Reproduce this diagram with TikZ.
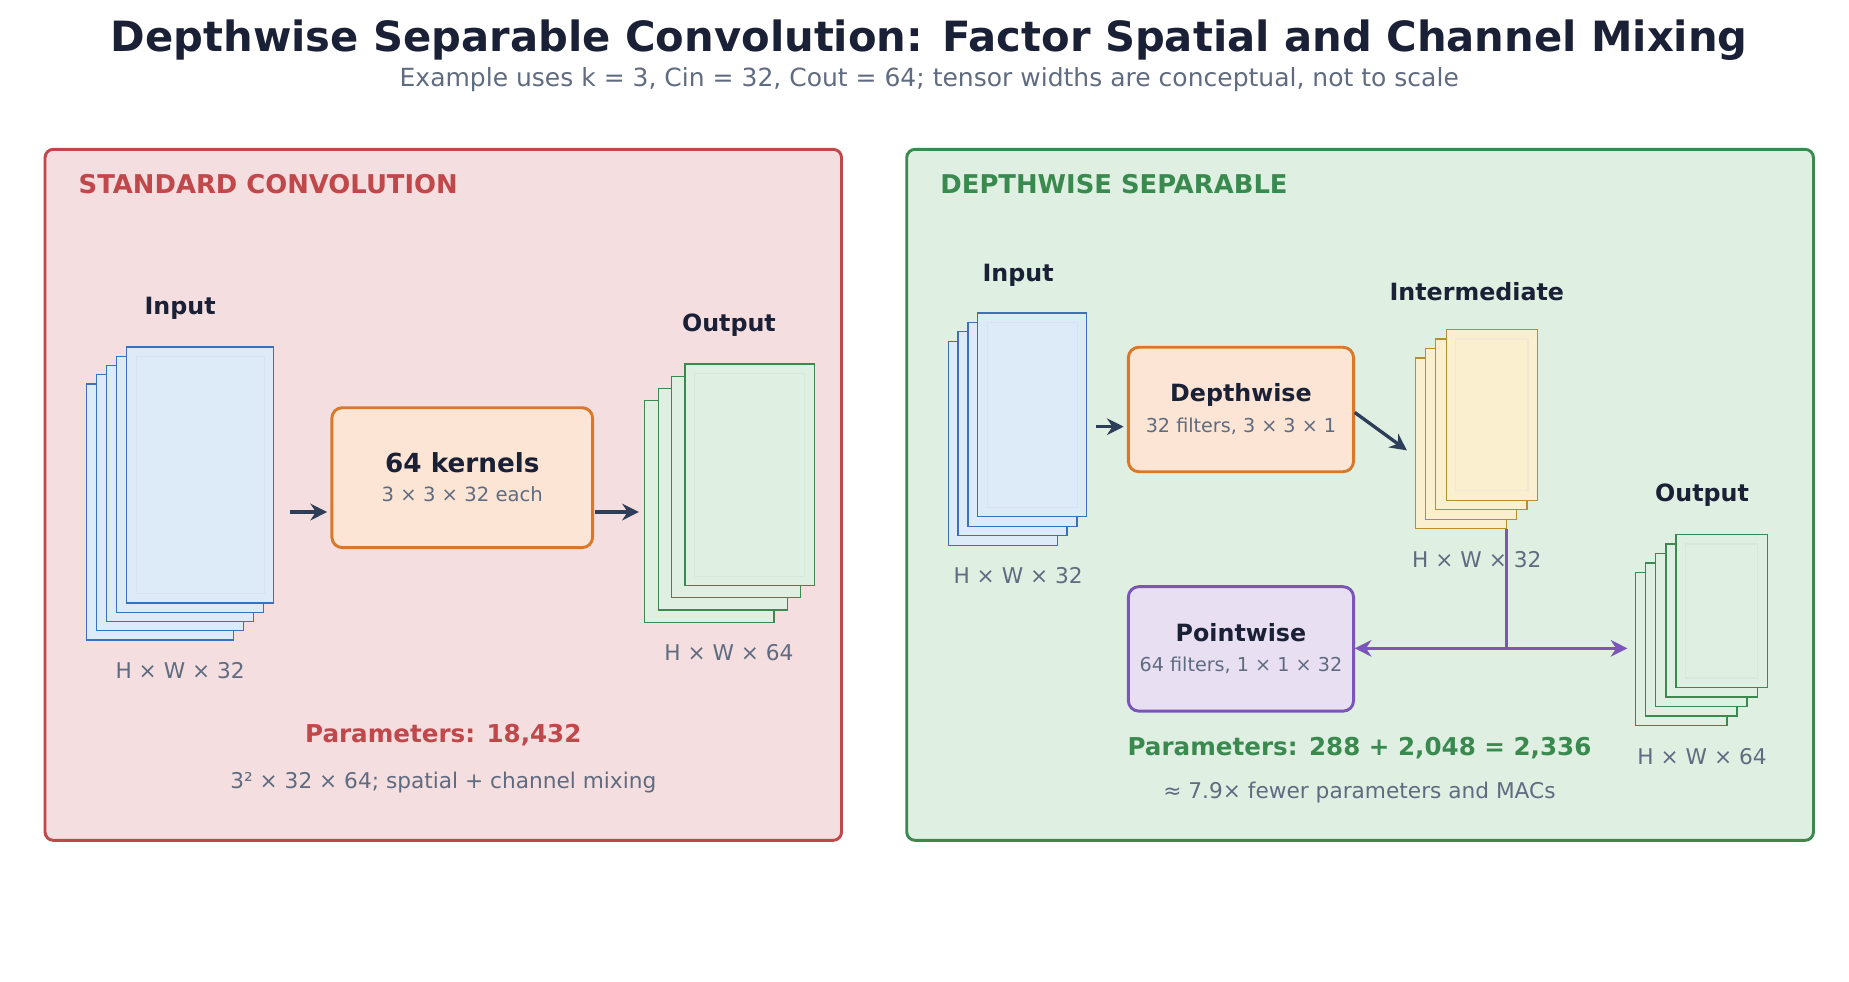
\documentclass[tikz,border=0pt]{standalone}
\usepackage{fontspec}
\setmainfont{DejaVu Sans}
\usetikzlibrary{arrows.meta,calc,positioning}
\definecolor{ink}{HTML}{1A2035}
\definecolor{muted}{HTML}{5F6B80}
\definecolor{arr}{HTML}{2E3E58}
\definecolor{redc}{HTML}{C0474A}
\definecolor{redbg}{HTML}{F5DEDF}
\definecolor{grnc}{HTML}{3A8A50}
\definecolor{grnbg}{HTML}{DFF0E2}
\definecolor{bluc}{HTML}{3A70C0}
\definecolor{blubg}{HTML}{DDEBF8}
\definecolor{yelc}{HTML}{B8902A}
\definecolor{yelbg}{HTML}{FAF0D0}
\definecolor{orac}{HTML}{D9782A}
\definecolor{orabg}{HTML}{FCE5D4}
\definecolor{purc}{HTML}{7B56B8}
\definecolor{purbg}{HTML}{E8DFF2}
\tikzset{
        panel/.style = {draw, line width=0.7pt, rounded corners=2pt},
        op/.style = {draw, line width=0.7pt, rounded corners=2.5pt},
        arrow/.style = {draw=arr, line width=0.8pt, -{Stealth[length=4pt,width=4pt]}},
        lbl/.style = {text=ink, font=\bfseries\fontsize{5.7}{6}\selectfont},
        dim/.style = {text=muted, font=\fontsize{5.2}{6}\selectfont},
        sheet/.style = {draw, line width=0.3pt},
    }
% #1 colour, #2 fill, #3 front lower-left, #4 size, #5 step, #6 count
\newcommand{\sheetstack}[6]{%
    \foreach \i in {0,...,#6}{
        \draw[sheet, draw=#1, fill=#2] ($(#3)+\i*(#5)$) rectangle ++(#4);
    }
    \draw[draw=#1!20, line width=0.3pt] ($(#3)+#6*(#5)+(8,-8)$) rectangle ($(#3)+#6*(#5)+(#4)+(-8,8)$);
}

\begin{document}
\begin{tikzpicture}[x=0.01cm, y=-0.01cm]
    \useasboundingbox (0,0) rectangle (1560,828);

    % titles
    \node[text=ink, font=\bfseries\fontsize{10}{12}\selectfont] (title) at (784,34) {Depthwise Separable Convolution: Factor Spatial and Channel Mixing};
    \node[text=muted, font=\fontsize{6}{7}\selectfont] (sub) at (784,67) {Example uses k = 3, Cin = 32, Cout = 64; tensor widths are conceptual, not to scale};

    % panels
    \draw[panel, draw=redc, fill=redbg] (38,126) rectangle (710,709);
    \draw[panel, draw=grnc, fill=grnbg] (765,126) rectangle (1530,709);
    \node[anchor=west, text=redc, font=\bfseries\fontsize{6.2}{7}\selectfont] (ltitle) at (54,155) {STANDARD CONVOLUTION};
    \node[anchor=west, text=grnc, font=\bfseries\fontsize{6.2}{7}\selectfont] (rtitle) at (781,155) {DEPTHWISE SEPARABLE};

    % standard convolution
    \sheetstack{bluc}{blubg}{73,540}{124,-216}{8.5,-7.8}{4}
    \node[lbl] (sin) at (152,260) {Input};
    \node[dim] (sind) at (152,566) {H × W × 32};
    \draw[op, draw=orac, fill=orabg] (280,344) rectangle (500,462);
    \node[text=ink, font=\bfseries\fontsize{6.3}{7}\selectfont] (kt) at (390,390) {64 kernels};
    \node[dim, font=\fontsize{4.7}{6}\selectfont] (ks) at (390,417) {3 × 3 × 32 each};
    \coordinate (sa) at (245,432);
    \coordinate (sb) at (276,432);
    \coordinate (sc) at (502,432);
    \coordinate (sd) at (539,432);
    \draw[arrow] (sa) -- (sb);
    \draw[arrow] (sc) -- (sd);
    \sheetstack{grnc}{grnbg}{544,525}{109,-187}{11.3,-10.3}{3}
    \node[lbl] (sout) at (615,274) {Output};
    \node[dim] (soutd) at (615,551) {H × W × 64};
    \node[text=redc, font=\bfseries\fontsize{5.9}{7}\selectfont] (sp) at (374,620) {Parameters: 18,432};
    \node[dim] (spd) at (374,660) {3² × 32 × 64; spatial + channel mixing};

    % depthwise separable
    \sheetstack{bluc}{blubg}{800,460}{92,-172}{8.3,-8}{3}
    \node[lbl] (din) at (859,232) {Input};
    \node[dim] (dind) at (859,486) {H × W × 32};
    \draw[op, draw=orac, fill=orabg] (952,293) rectangle (1142,398);
    \node[lbl] (dw) at (1047,333) {Depthwise};
    \node[dim, font=\fontsize{4.6}{6}\selectfont] (dws) at (1047,360) {32 filters, 3 × 3 × 1};
    \sheetstack{yelc}{yelbg}{1194,446}{77,-144}{8.7,-8}{3}
    \node[lbl] (dmid) at (1246,246) {Intermediate};
    \node[dim] (dmidd) at (1246,472) {H × W × 32};
    \draw[op, draw=purc, fill=purbg] (952,495) rectangle (1142,600);
    \node[lbl] (pw) at (1047,534) {Pointwise};
    \node[dim, font=\fontsize{4.6}{6}\selectfont] (pws) at (1047,561) {64 filters, 1 × 1 × 32};
    \sheetstack{grnc}{grnbg}{1380,612}{77,-129}{8.5,-8}{4}
    \node[lbl] (dout) at (1436,418) {Output};
    \node[dim] (doutd) at (1436,638) {H × W × 64};
    \coordinate (da) at (925,360);
    \coordinate (db) at (948,360);
    \coordinate (dc) at (1143,348);
    \coordinate (dd) at (1187,380);
    \coordinate (mid) at (1271,446);
    \coordinate (junc) at (1271,547);
    \coordinate (pin) at (1143,547);
    \coordinate (oin) at (1373,547);
    \draw[arrow] (da) -- (db);
    \draw[arrow] (dc) -- (dd);
    \draw[draw=purc, line width=0.8pt] (mid) -- (junc);
    \draw[arrow, draw=purc] (junc) -- (pin);
    \draw[arrow, draw=purc] (junc) -- (oin);
    \node[text=grnc, font=\bfseries\fontsize{5.9}{7}\selectfont] (dp) at (1147,631) {Parameters: 288 + 2,048 = 2,336};
    \node[dim] (dpd) at (1147,669) {≈ 7.9× fewer parameters and MACs};
\end{tikzpicture}
\end{document}
